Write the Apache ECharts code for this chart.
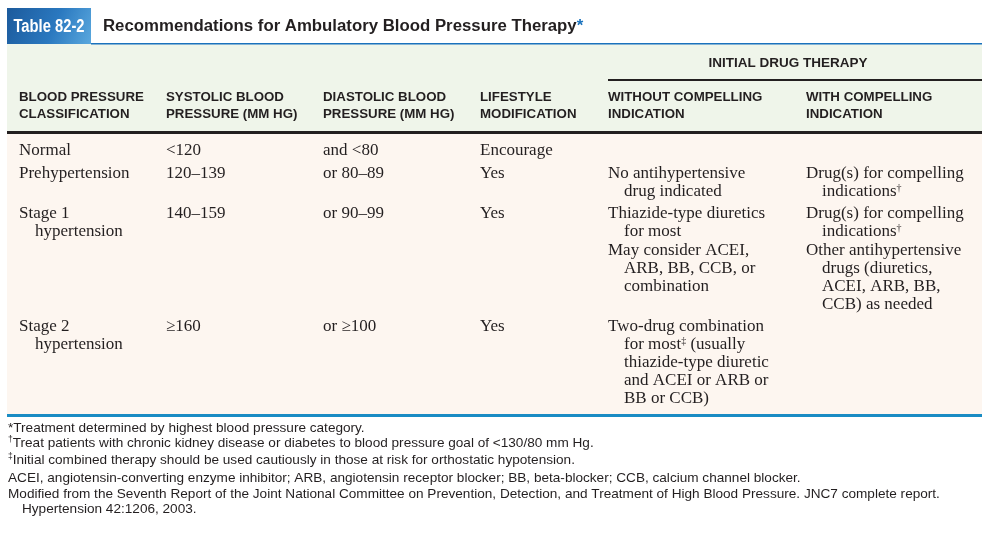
<!DOCTYPE html>
<html>
<head>
	<title>Table 82-2</title>
	<meta charset="utf-8">
	<script src="https://cdn.jsdelivr.net/npm/echarts@6/dist/echarts.min.js"></script>
	<style>
		body { margin: 0; background: #fff; }
		#main { width: 991px; height: 534px; }
	</style>
	<script>

	// Table contents
	var tableNumber = 'Table 82-2';
	var tableTitle = 'Recommendations for Ambulatory Blood Pressure Therapy';
	var groupHeader = 'INITIAL DRUG THERAPY';
	var columnHeaders = [
		['BLOOD PRESSURE', 'CLASSIFICATION'],
		['SYSTOLIC BLOOD', 'PRESSURE (MM HG)'],
		['DIASTOLIC BLOOD', 'PRESSURE (MM HG)'],
		['LIFESTYLE', 'MODIFICATION'],
		['WITHOUT COMPELLING', 'INDICATION'],
		['WITH COMPELLING', 'INDICATION']
	];
	// every cell = list of paragraphs, every paragraph = list of lines
	var classification = [[['Normal']], [['Prehypertension']], [['Stage 1', 'hypertension']], [['Stage 2', 'hypertension']]];
	var systolic = [[['<120']], [['120–139']], [['140–159']], [['≥160']]];
	var diastolic = [[['and <80']], [['or 80–89']], [['or 90–99']], [['or ≥100']]];
	var lifestyle = [[['Encourage']], [['Yes']], [['Yes']], [['Yes']]];
	var withoutIndication = [
		[],
		[['No antihypertensive', 'drug indicated']],
		[['Thiazide-type diuretics', 'for most'], ['May consider ACEI,', 'ARB, BB, CCB, or', 'combination']],
		[['Two-drug combination', 'for most{sup|‡} (usually', 'thiazide-type diuretic', 'and ACEI or ARB or', 'BB or CCB)']]
	];
	var withIndication = [
		[],
		[['Drug(s) for compelling', 'indications{sup|†}']],
		[['Drug(s) for compelling', 'indications{sup|†}'], ['Other antihypertensive', 'drugs (diuretics,', 'ACEI, ARB, BB,', 'CCB) as needed']],
		[]
	];
	// second item of a pair = wrapped continuation line
	var footnotes = [
		['*Treatment determined by highest blood pressure category.'],
		['{sup|†}Treat patients with chronic kidney disease or diabetes to blood pressure goal of <130/80 mm Hg.'],
		['{sup|‡}Initial combined therapy should be used cautiously in those at risk for orthostatic hypotension.'],
		['ACEI, angiotensin-converting enzyme inhibitor; ARB, angiotensin receptor blocker; BB, beta-blocker; CCB, calcium channel blocker.'],
		['Modified from the Seventh Report of the Joint National Committee on Prevention, Detection, and Treatment of High Blood Pressure. JNC7 complete report.',
		 'Hypertension 42:1206, 2003.']
	];

	// Layout
	var tableLeft = 7, tableRight = 982;
	var colX = [19, 166, 323, 480, 608, 806];
	var rowTop = [151, 174, 214, 327];
	var lineH = 18, paraGap = 1, indent = 16;
	var footTop = 428, footLine = [0, 15, 32, 50, 66, 81];

	var sansFont = '"Liberation Sans", Arial, sans-serif';
	var serifFont = '"Liberation Serif", "Times New Roman", serif';
	var ink = '#231f20';

	function txt(x, y, text, font, extra) {
		var el = {
			type: 'text', x: x, y: y, silent: true,
			style: { text: text, font: font, fill: ink, textVerticalAlign: 'middle' }
		};
		for (var k in extra) el.style[k] = extra[k];
		return el;
	}

	function buildGraphic() {
		var g = [];
		// backgrounds and rules
		g.push({ type: 'rect', shape: { x: tableLeft, y: 44, width: tableRight - tableLeft, height: 87 }, style: { fill: '#eff5ea' } });
		g.push({ type: 'rect', shape: { x: tableLeft, y: 134, width: tableRight - tableLeft, height: 280 }, style: { fill: '#fdf6f0' } });
		g.push({ type: 'rect', shape: { x: tableLeft, y: 131, width: tableRight - tableLeft, height: 3 }, style: { fill: '#231f20' } });
		g.push({ type: 'rect', shape: { x: tableLeft, y: 414, width: tableRight - tableLeft, height: 3 }, style: { fill: '#1a8cc4' } });
		g.push({ type: 'rect', shape: { x: 91, y: 43, width: tableRight - 91, height: 1.5 }, style: { fill: '#1a72bd' } });
		g.push({ type: 'rect', shape: { x: colX[4], y: 79, width: tableRight - colX[4], height: 2 }, style: { fill: '#231f20' } });

		// table number box
		g.push({
			type: 'rect', shape: { x: tableLeft, y: 8, width: 84, height: 36 },
			style: { fill: new echarts.graphic.LinearGradient(0, 0, 1, 1, [
				{ offset: 0, color: '#1c5a9c' }, { offset: 0.55, color: '#2a78bf' }, { offset: 1, color: '#5aa8de' }
			]) }
		});
		var num = txt(49, 27, tableNumber, 'bold 18px ' + sansFont, { fill: '#fff', textAlign: 'center' });
		num.scaleX = 0.82;
		g.push(num);
		g.push(txt(103, 26, tableTitle + '{star|*}', 'bold 16.8px ' + sansFont, {
			rich: { star: { fill: '#1a72bd', font: 'bold 16.8px ' + sansFont } }
		}));

		// headers
		g.push(txt(788, 63, groupHeader, 'bold 13.5px ' + sansFont, { textAlign: 'center' }));
		columnHeaders.forEach(function (h, c) {
			h.forEach(function (line, i) {
				g.push(txt(colX[c], 97 + i * 17, line, 'bold 13.3px ' + sansFont));
			});
		});

		// body cells
		var columns = [classification, systolic, diastolic, lifestyle, withoutIndication, withIndication];
		var bodyRich = { sup: { font: '10px ' + serifFont, fill: ink, verticalAlign: 'top', lineHeight: 10 } };
		columns.forEach(function (col, c) {
			col.forEach(function (cell, r) {
				var y = rowTop[r];
				cell.forEach(function (para) {
					para.forEach(function (line, i) {
						g.push(txt(colX[c] + (i > 0 ? indent : 0), y, line, '17px ' + serifFont, { lineHeight: lineH, rich: bodyRich }));
						y += lineH;
					});
					y += paraGap;
				});
			});
		});

		// footnotes
		var footRich = { sup: { font: '8.5px ' + sansFont, fill: ink, verticalAlign: 'top', lineHeight: 9 } };
		var n = 0;
		footnotes.forEach(function (note) {
			note.forEach(function (line, i) {
				g.push(txt(8 + (i > 0 ? 14 : 0), footTop + footLine[n], line, '13.6px ' + sansFont, { lineHeight: 15, rich: footRich }));
				n++;
			});
		});
		return g;
	}

	window.onload = function () {
		var chart = echarts.init(document.getElementById('main'));
		chart.setOption({
			backgroundColor: '#fff',
			animation: false,
			graphic: buildGraphic()
		});
	};
	</script>
</head>
<body>
	<div id="main"></div>
</body>
</html>
